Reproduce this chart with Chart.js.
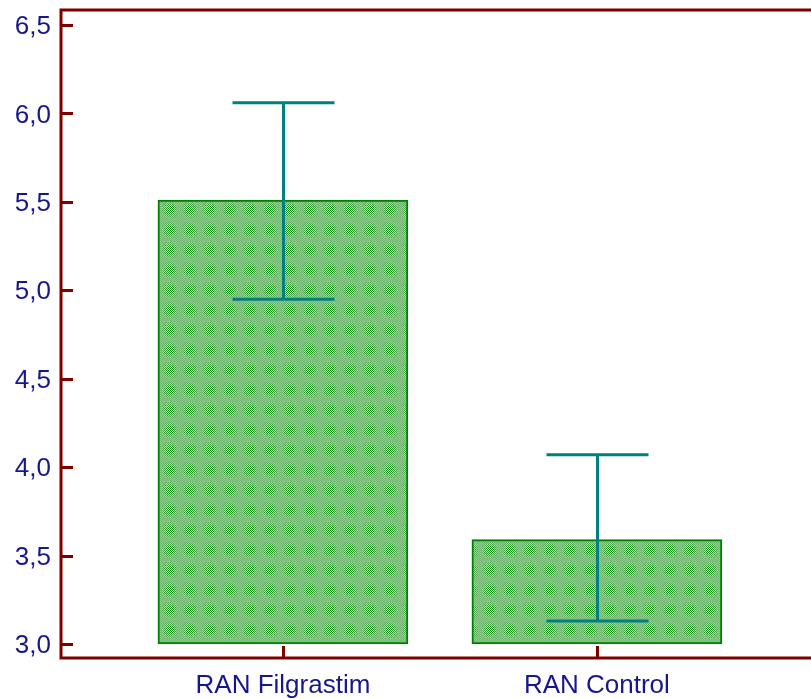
<!DOCTYPE html>
<html>
<head>
<meta charset="utf-8">
<script src="https://cdn.jsdelivr.net/npm/chart.js@4/dist/chart.umd.min.js"></script>
<style>
  html, body { margin: 0; padding: 0; background: #fff; }
  #wrap { width: 811px; height: 699px; }
</style>
</head>
<body>
<div id="wrap"><canvas id="chart"></canvas></div>
<script>
const categories = ['RAN Filgrastim', 'RAN Control'];
const barBase = [3.0, 3.0];
const means = [5.51, 3.59];
const errLow = [4.95, 3.13];
const errHigh = [6.06, 4.07];
const yTicks = [3.0, 3.5, 4.0, 4.5, 5.0, 5.5, 6.0, 6.5];

const axisColor = '#800000';
const labelColor = '#16168e';

// green dotted hatch like the original fill
function makePattern() {
    const c = document.createElement('canvas');
    c.width = 20; c.height = 20;
    const g = c.getContext('2d');
    for (let y = 0; y < 20; y++) {
        for (let x = 0; x < 20; x++) {
            const d = Math.hypot(x - 9.5, y - 9.5);
            const odd = (x + y) % 2;
            if (d < 4.5) {
                g.fillStyle = odd ? '#e0f2e0' : '#0a880a';
            } else if (d < 6.5) {
                g.fillStyle = odd ? '#bce0bc' : '#3a9a3a';
            } else if (d < 8.5) {
                g.fillStyle = odd ? '#a2d2a2' : '#5aac5a';
            } else {
                g.fillStyle = odd ? '#8cc88c' : '#74b874';
            }
            g.fillRect(x, y, 1, 1);
        }
    }
    return g.createPattern(c, 'repeat');
}

const framePlugin = {
    id: 'frame',
    afterDraw(chart) {
        const ctx = chart.ctx;
        const a = chart.chartArea;
        const xs = chart.scales.x, ys = chart.scales.y;
        ctx.save();
        ctx.strokeStyle = axisColor;
        ctx.lineWidth = 3;
        ctx.beginPath();
        ctx.moveTo(a.left, a.top - 1.5); ctx.lineTo(a.left, a.bottom);
        ctx.moveTo(a.left, a.top); ctx.lineTo(a.right, a.top);
        ctx.moveTo(a.left - 1.5, a.bottom); ctx.lineTo(a.right, a.bottom);
        ctx.stroke();
        // inward ticks
        yTicks.forEach(v => {
            const y = Math.round(ys.getPixelForValue(v)) + 0.5;
            ctx.beginPath();
            ctx.moveTo(a.left, y); ctx.lineTo(a.left + 12, y);
            ctx.stroke();
        });
        categories.forEach((c, i) => {
            const x = Math.round(xs.getPixelForValue(i)) + 0.5;
            ctx.beginPath();
            ctx.moveTo(x, a.bottom); ctx.lineTo(x, a.bottom - 12);
            ctx.stroke();
        });
        ctx.restore();
    },
    afterDatasetsDraw(chart) {
        const ctx = chart.ctx;
        const xs = chart.scales.x, ys = chart.scales.y;
        ctx.save();
        ctx.strokeStyle = '#008080';
        ctx.lineWidth = 3;
        categories.forEach((c, i) => {
            const x = Math.round(xs.getPixelForValue(i)) + 0.5;
            const lo = ys.getPixelForValue(errLow[i]);
            const hi = ys.getPixelForValue(errHigh[i]);
            ctx.beginPath();
            ctx.moveTo(x, lo); ctx.lineTo(x, hi);
            ctx.moveTo(x - 51, lo); ctx.lineTo(x + 51, lo);
            ctx.moveTo(x - 51, hi); ctx.lineTo(x + 51, hi);
            ctx.stroke();
        });
        ctx.restore();
    }
};

const ctx = document.getElementById('chart').getContext('2d');
new Chart(ctx, {
    type: 'bar',
    data: {
        datasets: [{
            data: categories.map((c, i) => ({ x: i, y: [barBase[i], means[i]] })),
            backgroundColor: makePattern(),
            borderColor: '#008000',
            borderWidth: 2,
            borderSkipped: false,
            barThickness: 250
        }]
    },
    options: {
        responsive: true,
        maintainAspectRatio: false,
        animation: false,
        layout: { padding: { top: 10, right: 0, left: 0, bottom: 0 } },
        plugins: { legend: { display: false }, tooltip: { enabled: false } },
        scales: {
            x: {
                type: 'linear',
                offset: false,
                min: -0.707,
                max: 1.682,
                grid: { display: false, drawTicks: false },
                border: { display: false },
                afterBuildTicks: s => { s.ticks = categories.map((c, i) => ({ value: i })); },
                afterFit: s => { s.height = 41; s.paddingLeft = 0; s.paddingRight = 0; },
                ticks: {
                    padding: 12,
                    color: labelColor,
                    font: { family: 'Liberation Sans, Arial, sans-serif', size: 26 },
                    maxRotation: 0,
                    autoSkip: false,
                    callback: v => categories[v]
                }
            },
            y: {
                min: 2.921,
                max: 6.585,
                grid: { display: false, drawTicks: false },
                border: { display: false },
                afterBuildTicks: s => { s.ticks = yTicks.map(v => ({ value: v })); },
                afterFit: s => { s.width = 61; s.paddingTop = 0; s.paddingBottom = 0; },
                ticks: {
                    padding: 10,
                    labelOffset: 2,
                    color: labelColor,
                    font: { family: 'Liberation Sans, Arial, sans-serif', size: 26 },
                    callback: v => v.toFixed(1).replace('.', ',')
                }
            }
        }
    },
    plugins: [framePlugin]
});
</script>
</body>
</html>
